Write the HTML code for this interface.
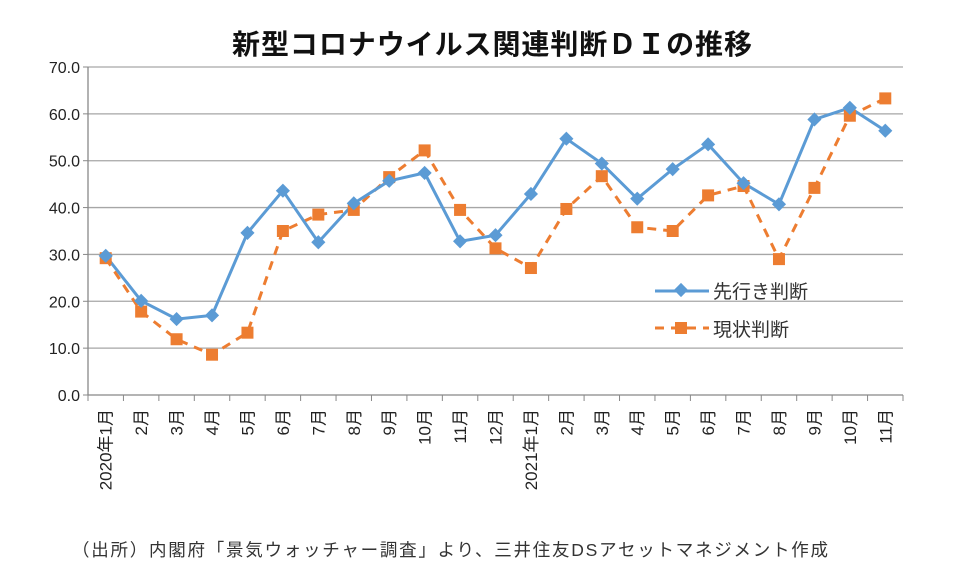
<!DOCTYPE html>
<html><head><meta charset="utf-8"><style>
body{margin:0;background:#fff;width:960px;height:572px;overflow:hidden;font-family:"Liberation Sans","Noto Sans CJK JP",sans-serif}
</style></head><body>
<svg id="chart" width="960" height="572" xmlns="http://www.w3.org/2000/svg" font-family="Liberation Sans, Noto Sans CJK JP, sans-serif">
<text x="232" y="54" textLength="520" lengthAdjust="spacing" font-size="28" font-weight="bold" fill="#111">新型コロナウイルス関連判断ＤＩの推移</text>
<g id="grid"></g><g id="axes"></g><g id="series"></g>
<g>
<g>
<line x1="655" y1="291" x2="709" y2="291" stroke="#5b9bd5" stroke-width="3"/>
<rect x="676" y="285" width="10" height="10" fill="#5b9bd5" transform="rotate(45 681 290)"/>
<text x="713" y="298" font-size="19" fill="#333">先行き判断</text></g>
<g>
<line x1="655" y1="328" x2="709" y2="328" stroke="#ed7d31" stroke-width="3" stroke-dasharray="9,7"/>
<rect x="675" y="322" width="12" height="12" fill="#ed7d31"/>
<text x="713" y="336" font-size="19" fill="#333">現状判断</text></g>
</g>
<text x="72" y="556" textLength="756" lengthAdjust="spacing" font-size="17.5" fill="#333">（出所）内閣府「景気ウォッチャー調査」より、三井住友DSアセットマネジメント作成</text>
</svg>
<script>
const categories=["2020年1月","2月","3月","4月","5月","6月","7月","8月","9月","10月","11月","12月","2021年1月","2月","3月","4月","5月","6月","7月","8月","9月","10月","11月"];
const leading=[29.7,20.1,16.2,17.0,34.6,43.6,32.6,40.9,45.7,47.4,32.8,34.1,42.9,54.7,49.4,41.9,48.2,53.5,45.2,40.7,58.8,61.3,56.4];
const current=[29.2,17.8,11.9,8.6,13.3,35.0,38.5,39.5,46.5,52.2,39.5,31.3,27.1,39.7,46.7,35.8,35.0,42.6,44.6,29.0,44.2,59.6,63.3];
const yTicks=[0,10,20,30,40,50,60,70];
const NS="http://www.w3.org/2000/svg";
const L=88,R=903,T=67,B=395,yMax=70;
const bw=(R-L)/categories.length;
const xS=i=>L+bw*(i+0.5);
const yS=v=>B-(v/yMax)*(B-T);
function mk(t,a,p){const e=document.createElementNS(NS,t);for(const k in a)e.setAttribute(k,a[k]);p.appendChild(e);return e;}
const grid=document.getElementById('grid'),axes=document.getElementById('axes'),ser=document.getElementById('series');
yTicks.forEach(v=>{
 const g=mk('line',{x1:L,x2:R,y1:yS(v),y2:yS(v),stroke:v===0?'#888':'#a6a6a6','stroke-width':1.3},grid);
 
 
 mk('line',{x1:L-5,x2:L,y1:yS(v),y2:yS(v),stroke:'#888'},axes);
 const t=mk('text',{x:L-8,y:yS(v)+6,'text-anchor':'end','font-size':16,fill:'#222'},axes);
 t.textContent=v.toFixed(1);
 
 
});
mk('line',{x1:L,x2:L,y1:T,y2:B,stroke:'#888','stroke-width':1.3},axes);
for(let i=0;i<=categories.length;i++)mk('line',{x1:L+bw*i,x2:L+bw*i,y1:B,y2:B+6,stroke:'#888'},axes);
categories.forEach((c,i)=>{
 const x=xS(i)+6,y=409;
 const t=mk('text',{x:x,y:y,'text-anchor':'end','font-size':17,fill:'#222',transform:`rotate(-90 ${x} ${y})`},axes);
 t.textContent=c;
 
 
});
function line(vals,color,dash,name){
 const p=mk('polyline',{points:vals.map((v,i)=>xS(i)+','+yS(v)).join(' '),fill:'none',stroke:color,'stroke-width':3,'stroke-dasharray':dash||'none'},ser);
 
 
}
line(current,'#ed7d31','9,7','current');
line(leading,'#5b9bd5',null,'leading');
current.forEach((v,i)=>{
 const r=mk('rect',{x:xS(i)-6,y:yS(v)-6,width:12,height:12,fill:'#ed7d31'},ser);
 
 
});
leading.forEach((v,i)=>{
 const r=mk('rect',{x:xS(i)-5,y:yS(v)-5,width:10,height:10,fill:'#5b9bd5',transform:`rotate(45 ${xS(i)} ${yS(v)})`},ser);
 
 
});
</script>
</body></html>
